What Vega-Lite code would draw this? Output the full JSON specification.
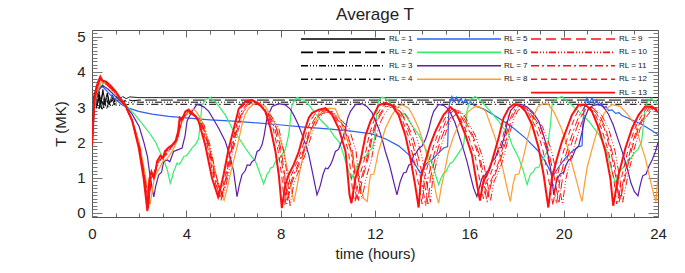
{
"$schema": "https://vega.github.io/schema/vega-lite/v6.json",
"width": 566, "height": 187,
"autosize": {"type": "none"},
"padding": {"left": 92, "top": 30, "right": 27, "bottom": 56},
"background": "white",
"config": {"font": "Liberation Sans", "view": {"stroke": "#555", "strokeWidth": 1}, "axis": {"grid": false}},
"title": {"text": "Average T", "fontSize": 17, "fontWeight": "normal", "color": "#222", "offset": 6, "anchor": "middle"},
"data": {"values": [
{"rl":1,"t":0,"T":1.9},{"rl":1,"t":0.08,"T":3.3},{"rl":1,"t":0.15,"T":3.5},{"rl":1,"t":0.22,"T":3.05},{"rl":1,"t":0.3,"T":3.45},{"rl":1,"t":0.38,"T":3.1},{"rl":1,"t":0.46,"T":3.5},{"rl":1,"t":0.55,"T":3.15},{"rl":1,"t":0.65,"T":3.4},{"rl":1,"t":0.75,"T":3.1},{"rl":1,"t":0.85,"T":3.35},{"rl":1,"t":0.95,"T":3.15},{"rl":1,"t":1.05,"T":3.3},{"rl":1,"t":1.15,"T":3.2},{"rl":1,"t":1.3,"T":3.3},{"rl":1,"t":1.45,"T":3.24},{"rl":1,"t":1.6,"T":3.29},{"rl":1,"t":2,"T":3.27},{"rl":1,"t":24,"T":3.27},
{"rl":2,"t":0,"T":1.9},{"rl":2,"t":0.1,"T":3.4},{"rl":2,"t":0.18,"T":3.2},{"rl":2,"t":0.27,"T":3.55},{"rl":2,"t":0.35,"T":3.0},{"rl":2,"t":0.45,"T":3.4},{"rl":2,"t":0.55,"T":3.05},{"rl":2,"t":0.65,"T":3.35},{"rl":2,"t":0.75,"T":3.05},{"rl":2,"t":0.9,"T":3.3},{"rl":2,"t":1.0,"T":3.1},{"rl":2,"t":1.15,"T":3.25},{"rl":2,"t":1.3,"T":3.15},{"rl":2,"t":1.5,"T":3.22},{"rl":2,"t":1.7,"T":3.18},{"rl":2,"t":2,"T":3.2},{"rl":2,"t":24,"T":3.2},
{"rl":3,"t":0,"T":1.9},{"rl":3,"t":0.1,"T":3.2},{"rl":3,"t":0.2,"T":3.45},{"rl":3,"t":0.3,"T":2.95},{"rl":3,"t":0.4,"T":3.3},{"rl":3,"t":0.5,"T":2.95},{"rl":3,"t":0.62,"T":3.25},{"rl":3,"t":0.72,"T":3.0},{"rl":3,"t":0.85,"T":3.22},{"rl":3,"t":0.98,"T":3.05},{"rl":3,"t":1.1,"T":3.2},{"rl":3,"t":1.25,"T":3.08},{"rl":3,"t":1.4,"T":3.18},{"rl":3,"t":1.6,"T":3.12},{"rl":3,"t":1.8,"T":3.15},{"rl":3,"t":2,"T":3.14},{"rl":3,"t":24,"T":3.14},
{"rl":4,"t":0,"T":1.9},{"rl":4,"t":0.12,"T":3.35},{"rl":4,"t":0.2,"T":2.95},{"rl":4,"t":0.32,"T":3.35},{"rl":4,"t":0.42,"T":2.9},{"rl":4,"t":0.52,"T":3.2},{"rl":4,"t":0.62,"T":2.95},{"rl":4,"t":0.72,"T":3.15},{"rl":4,"t":0.82,"T":3.0},{"rl":4,"t":0.95,"T":3.12},{"rl":4,"t":1.1,"T":3.02},{"rl":4,"t":1.25,"T":3.1},{"rl":4,"t":1.4,"T":3.05},{"rl":4,"t":1.6,"T":3.09},{"rl":4,"t":2,"T":3.08},{"rl":4,"t":24,"T":3.08},
{"rl":5,"t":0,"T":1.9},{"rl":5,"t":0.1,"T":3.0},{"rl":5,"t":0.2,"T":3.4},{"rl":5,"t":0.35,"T":3.6},{"rl":5,"t":0.5,"T":3.55},{"rl":5,"t":0.85,"T":3.3},{"rl":5,"t":1.27,"T":3.07},{"rl":5,"t":1.55,"T":2.97},{"rl":5,"t":1.98,"T":2.88},{"rl":5,"t":2.54,"T":2.8},{"rl":5,"t":3.25,"T":2.74},{"rl":5,"t":4.24,"T":2.68},{"rl":5,"t":5.0,"T":2.64},{"rl":5,"t":6.0,"T":2.6},{"rl":5,"t":7.0,"T":2.55},{"rl":5,"t":7.92,"T":2.5},{"rl":5,"t":9.0,"T":2.43},{"rl":5,"t":10.0,"T":2.38},{"rl":5,"t":11.0,"T":2.32},{"rl":5,"t":11.87,"T":2.24},{"rl":5,"t":12.44,"T":2.1},{"rl":5,"t":13.0,"T":1.9},{"rl":5,"t":13.43,"T":1.65},{"rl":5,"t":13.71,"T":1.36},{"rl":5,"t":13.92,"T":1.13},{"rl":5,"t":14.0,"T":1.2},{"rl":5,"t":14.2,"T":1.41},{"rl":5,"t":14.41,"T":1.5},{"rl":5,"t":14.7,"T":1.7},{"rl":5,"t":14.91,"T":1.84},{"rl":5,"t":15.08,"T":1.88},{"rl":5,"t":15.12,"T":2.7},{"rl":5,"t":15.15,"T":3.07},{"rl":5,"t":15.26,"T":3.3},{"rl":5,"t":15.35,"T":3.15},{"rl":5,"t":15.45,"T":3.28},{"rl":5,"t":15.55,"T":3.12},{"rl":5,"t":15.65,"T":3.25},{"rl":5,"t":15.75,"T":3.1},{"rl":5,"t":15.83,"T":3.22},{"rl":5,"t":15.95,"T":3.08},{"rl":5,"t":16.05,"T":3.15},{"rl":5,"t":16.2,"T":3.05},{"rl":5,"t":16.39,"T":3.0},{"rl":5,"t":16.6,"T":2.95},{"rl":5,"t":16.82,"T":2.86},{"rl":5,"t":17.24,"T":2.69},{"rl":5,"t":17.67,"T":2.5},{"rl":5,"t":17.88,"T":2.4},{"rl":5,"t":18.38,"T":2.12},{"rl":5,"t":18.94,"T":1.74},{"rl":5,"t":19.22,"T":1.46},{"rl":5,"t":19.44,"T":1.17},{"rl":5,"t":19.58,"T":1.08},{"rl":5,"t":19.79,"T":1.3},{"rl":5,"t":20.07,"T":1.55},{"rl":5,"t":20.35,"T":1.74},{"rl":5,"t":20.64,"T":1.88},{"rl":5,"t":20.78,"T":1.9},{"rl":5,"t":20.82,"T":2.6},{"rl":5,"t":20.87,"T":2.97},{"rl":5,"t":20.99,"T":3.26},{"rl":5,"t":21.08,"T":3.1},{"rl":5,"t":21.2,"T":3.26},{"rl":5,"t":21.3,"T":3.08},{"rl":5,"t":21.4,"T":3.2},{"rl":5,"t":21.5,"T":3.05},{"rl":5,"t":21.6,"T":3.12},{"rl":5,"t":21.7,"T":2.98},{"rl":5,"t":21.8,"T":3.02},{"rl":5,"t":21.9,"T":2.9},{"rl":5,"t":22.05,"T":2.92},{"rl":5,"t":22.2,"T":2.82},{"rl":5,"t":22.35,"T":2.84},{"rl":5,"t":22.47,"T":2.76},{"rl":5,"t":22.7,"T":2.7},{"rl":5,"t":22.9,"T":2.63},{"rl":5,"t":23.2,"T":2.55},{"rl":5,"t":23.46,"T":2.45},{"rl":5,"t":23.75,"T":2.33},{"rl":5,"t":24.0,"T":2.22},
{"rl":6,"t":0,"T":1.9},{"rl":6,"t":0.1,"T":3.0},{"rl":6,"t":0.25,"T":3.45},{"rl":6,"t":0.5,"T":3.7},{"rl":6,"t":0.7,"T":3.6},{"rl":6,"t":1.0,"T":3.35},{"rl":6,"t":1.4,"T":3.08},{"rl":6,"t":1.8,"T":2.8},{"rl":6,"t":2.1,"T":2.55},{"rl":6,"t":2.4,"T":2.3},{"rl":6,"t":2.7,"T":2.0},{"rl":6,"t":2.9,"T":1.7},{"rl":6,"t":3.05,"T":1.5},{"rl":6,"t":3.2,"T":1.2},{"rl":6,"t":3.32,"T":0.84},{"rl":6,"t":3.4,"T":1.0},{"rl":6,"t":3.46,"T":1.17},{"rl":6,"t":3.52,"T":1.25},{"rl":6,"t":3.6,"T":1.41},{"rl":6,"t":3.7,"T":1.38},{"rl":6,"t":3.78,"T":1.45},{"rl":6,"t":3.89,"T":1.6},{"rl":6,"t":4.0,"T":1.62},{"rl":6,"t":4.1,"T":1.7},{"rl":6,"t":4.25,"T":1.85},{"rl":6,"t":4.4,"T":1.95},{"rl":6,"t":4.52,"T":2.1},{"rl":6,"t":4.6,"T":2.6},{"rl":6,"t":4.66,"T":3.05},{"rl":6,"t":4.8,"T":3.2},{"rl":6,"t":5.02,"T":3.28},{"rl":6,"t":5.1,"T":3.2},{"rl":6,"t":5.23,"T":3.16},{"rl":6,"t":5.44,"T":2.97},{"rl":6,"t":5.65,"T":2.78},{"rl":6,"t":5.94,"T":2.4},{"rl":6,"t":6.2,"T":2.15},{"rl":6,"t":6.5,"T":1.84},{"rl":6,"t":6.7,"T":1.65},{"rl":6,"t":6.93,"T":1.46},{"rl":6,"t":7.05,"T":1.25},{"rl":6,"t":7.14,"T":1.08},{"rl":6,"t":7.28,"T":0.82},{"rl":6,"t":7.35,"T":0.95},{"rl":6,"t":7.42,"T":1.1},{"rl":6,"t":7.5,"T":1.15},{"rl":6,"t":7.57,"T":1.27},{"rl":6,"t":7.68,"T":1.3},{"rl":6,"t":7.78,"T":1.46},{"rl":6,"t":7.9,"T":1.5},{"rl":6,"t":8.06,"T":1.65},{"rl":6,"t":8.2,"T":1.8},{"rl":6,"t":8.34,"T":2.22},{"rl":6,"t":8.42,"T":2.7},{"rl":6,"t":8.48,"T":3.07},{"rl":6,"t":8.6,"T":3.2},{"rl":6,"t":8.7,"T":3.28},{"rl":6,"t":8.85,"T":3.22},{"rl":6,"t":9.0,"T":3.2},{"rl":6,"t":9.19,"T":3.07},{"rl":6,"t":9.4,"T":2.88},{"rl":6,"t":9.62,"T":2.69},{"rl":6,"t":10.04,"T":2.4},{"rl":6,"t":10.3,"T":2.15},{"rl":6,"t":10.46,"T":2.03},{"rl":6,"t":10.6,"T":1.8},{"rl":6,"t":10.75,"T":1.46},{"rl":6,"t":10.89,"T":1.17},{"rl":6,"t":11.0,"T":0.95},{"rl":6,"t":11.08,"T":1.1},{"rl":6,"t":11.15,"T":1.15},{"rl":6,"t":11.25,"T":1.35},{"rl":6,"t":11.35,"T":1.4},{"rl":6,"t":11.45,"T":1.55},{"rl":6,"t":11.6,"T":1.6},{"rl":6,"t":11.75,"T":1.75},{"rl":6,"t":11.9,"T":1.85},{"rl":6,"t":12.0,"T":2.2},{"rl":6,"t":12.07,"T":2.8},{"rl":6,"t":12.15,"T":3.2},{"rl":6,"t":12.3,"T":3.28},{"rl":6,"t":12.44,"T":3.25},{"rl":6,"t":12.6,"T":3.15},{"rl":6,"t":12.8,"T":3.0},{"rl":6,"t":13.0,"T":2.9},{"rl":6,"t":13.28,"T":2.78},{"rl":6,"t":13.55,"T":2.5},{"rl":6,"t":13.85,"T":2.22},{"rl":6,"t":14.05,"T":1.95},{"rl":6,"t":14.2,"T":1.74},{"rl":6,"t":14.35,"T":1.5},{"rl":6,"t":14.49,"T":1.27},{"rl":6,"t":14.6,"T":1.0},{"rl":6,"t":14.7,"T":0.8},{"rl":6,"t":14.78,"T":0.95},{"rl":6,"t":14.91,"T":1.13},{"rl":6,"t":15.0,"T":1.15},{"rl":6,"t":15.1,"T":1.3},{"rl":6,"t":15.19,"T":1.4},{"rl":6,"t":15.3,"T":1.45},{"rl":6,"t":15.45,"T":1.6},{"rl":6,"t":15.6,"T":1.75},{"rl":6,"t":15.75,"T":1.9},{"rl":6,"t":15.85,"T":2.4},{"rl":6,"t":15.9,"T":2.88},{"rl":6,"t":16.04,"T":3.22},{"rl":6,"t":16.25,"T":3.3},{"rl":6,"t":16.45,"T":3.2},{"rl":6,"t":16.6,"T":3.1},{"rl":6,"t":16.89,"T":2.88},{"rl":6,"t":17.24,"T":2.6},{"rl":6,"t":17.45,"T":2.4},{"rl":6,"t":17.67,"T":2.22},{"rl":6,"t":17.81,"T":1.93},{"rl":6,"t":17.95,"T":1.75},{"rl":6,"t":18.1,"T":1.55},{"rl":6,"t":18.3,"T":1.17},{"rl":6,"t":18.45,"T":0.8},{"rl":6,"t":18.52,"T":0.95},{"rl":6,"t":18.59,"T":1.1},{"rl":6,"t":18.7,"T":1.15},{"rl":6,"t":18.8,"T":1.27},{"rl":6,"t":18.95,"T":1.3},{"rl":6,"t":19.05,"T":1.45},{"rl":6,"t":19.15,"T":1.55},{"rl":6,"t":19.29,"T":1.74},{"rl":6,"t":19.38,"T":2.2},{"rl":6,"t":19.44,"T":2.5},{"rl":6,"t":19.51,"T":3.07},{"rl":6,"t":19.72,"T":3.26},{"rl":6,"t":19.93,"T":3.3},{"rl":6,"t":20.1,"T":3.2},{"rl":6,"t":20.35,"T":3.05},{"rl":6,"t":20.64,"T":2.88},{"rl":6,"t":21.06,"T":2.6},{"rl":6,"t":21.49,"T":2.22},{"rl":6,"t":21.7,"T":1.95},{"rl":6,"t":21.84,"T":1.74},{"rl":6,"t":22.0,"T":1.3},{"rl":6,"t":22.12,"T":1.0},{"rl":6,"t":22.2,"T":0.85},{"rl":6,"t":22.3,"T":1.05},{"rl":6,"t":22.4,"T":1.2},{"rl":6,"t":22.55,"T":1.3},{"rl":6,"t":22.7,"T":1.45},{"rl":6,"t":22.85,"T":1.55},{"rl":6,"t":23.0,"T":1.7},{"rl":6,"t":23.15,"T":1.8},{"rl":6,"t":23.3,"T":2.0},{"rl":6,"t":23.4,"T":2.6},{"rl":6,"t":23.45,"T":3.0},{"rl":6,"t":23.6,"T":3.2},{"rl":6,"t":23.72,"T":3.25},{"rl":6,"t":23.85,"T":3.15},{"rl":6,"t":24.0,"T":3.1},
{"rl":7,"t":0,"T":1.9},{"rl":7,"t":0.1,"T":3.0},{"rl":7,"t":0.25,"T":3.45},{"rl":7,"t":0.45,"T":3.62},{"rl":7,"t":0.7,"T":3.5},{"rl":7,"t":1.0,"T":3.3},{"rl":7,"t":1.4,"T":3.05},{"rl":7,"t":1.7,"T":2.8},{"rl":7,"t":2.0,"T":2.45},{"rl":7,"t":2.2,"T":2.0},{"rl":7,"t":2.35,"T":1.6},{"rl":7,"t":2.45,"T":1.1},{"rl":7,"t":2.55,"T":0.7},{"rl":7,"t":2.62,"T":0.45},{"rl":7,"t":2.7,"T":0.75},{"rl":7,"t":2.83,"T":1.08},{"rl":7,"t":2.95,"T":1.15},{"rl":7,"t":3.04,"T":1.46},{"rl":7,"t":3.2,"T":1.5},{"rl":7,"t":3.3,"T":1.45},{"rl":7,"t":3.46,"T":1.74},{"rl":7,"t":3.6,"T":1.78},{"rl":7,"t":3.82,"T":1.84},{"rl":7,"t":3.95,"T":2.2},{"rl":7,"t":4.03,"T":2.6},{"rl":7,"t":4.24,"T":2.88},{"rl":7,"t":4.45,"T":3.08},{"rl":7,"t":4.6,"T":3.05},{"rl":7,"t":4.75,"T":3.0},{"rl":7,"t":4.95,"T":2.88},{"rl":7,"t":5.2,"T":2.6},{"rl":7,"t":5.37,"T":2.4},{"rl":7,"t":5.65,"T":2.03},{"rl":7,"t":5.85,"T":1.6},{"rl":7,"t":6.0,"T":1.2},{"rl":7,"t":6.08,"T":0.8},{"rl":7,"t":6.15,"T":0.46},{"rl":7,"t":6.25,"T":0.8},{"rl":7,"t":6.36,"T":1.08},{"rl":7,"t":6.5,"T":1.2},{"rl":7,"t":6.58,"T":1.36},{"rl":7,"t":6.7,"T":1.35},{"rl":7,"t":6.79,"T":1.46},{"rl":7,"t":6.9,"T":1.5},{"rl":7,"t":7.0,"T":1.74},{"rl":7,"t":7.1,"T":1.78},{"rl":7,"t":7.21,"T":1.93},{"rl":7,"t":7.3,"T":2.2},{"rl":7,"t":7.42,"T":2.69},{"rl":7,"t":7.64,"T":3.02},{"rl":7,"t":7.92,"T":3.1},{"rl":7,"t":8.2,"T":3.06},{"rl":7,"t":8.4,"T":2.95},{"rl":7,"t":8.55,"T":2.78},{"rl":7,"t":8.75,"T":2.5},{"rl":7,"t":8.91,"T":2.22},{"rl":7,"t":9.05,"T":1.95},{"rl":7,"t":9.19,"T":1.65},{"rl":7,"t":9.3,"T":1.3},{"rl":7,"t":9.4,"T":0.98},{"rl":7,"t":9.54,"T":0.51},{"rl":7,"t":9.62,"T":0.65},{"rl":7,"t":9.69,"T":0.8},{"rl":7,"t":9.8,"T":1.1},{"rl":7,"t":9.9,"T":1.27},{"rl":7,"t":10.0,"T":1.25},{"rl":7,"t":10.11,"T":1.36},{"rl":7,"t":10.2,"T":1.5},{"rl":7,"t":10.32,"T":1.74},{"rl":7,"t":10.45,"T":1.8},{"rl":7,"t":10.53,"T":1.93},{"rl":7,"t":10.65,"T":2.15},{"rl":7,"t":10.75,"T":2.4},{"rl":7,"t":10.85,"T":2.7},{"rl":7,"t":10.96,"T":2.88},{"rl":7,"t":11.17,"T":3.07},{"rl":7,"t":11.45,"T":3.1},{"rl":7,"t":11.65,"T":3.02},{"rl":7,"t":11.87,"T":2.85},{"rl":7,"t":12.0,"T":2.65},{"rl":7,"t":12.15,"T":2.4},{"rl":7,"t":12.3,"T":2.1},{"rl":7,"t":12.44,"T":1.74},{"rl":7,"t":12.6,"T":1.4},{"rl":7,"t":12.72,"T":1.08},{"rl":7,"t":12.82,"T":0.8},{"rl":7,"t":12.93,"T":0.51},{"rl":7,"t":13.0,"T":0.7},{"rl":7,"t":13.07,"T":0.89},{"rl":7,"t":13.21,"T":1.13},{"rl":7,"t":13.32,"T":1.15},{"rl":7,"t":13.43,"T":1.35},{"rl":7,"t":13.55,"T":1.4},{"rl":7,"t":13.64,"T":1.65},{"rl":7,"t":13.75,"T":1.7},{"rl":7,"t":13.85,"T":1.82},{"rl":7,"t":14.0,"T":1.9},{"rl":7,"t":14.15,"T":2.1},{"rl":7,"t":14.27,"T":2.35},{"rl":7,"t":14.4,"T":2.7},{"rl":7,"t":14.49,"T":2.88},{"rl":7,"t":14.7,"T":3.08},{"rl":7,"t":14.91,"T":3.05},{"rl":7,"t":15.05,"T":2.98},{"rl":7,"t":15.19,"T":2.85},{"rl":7,"t":15.4,"T":2.55},{"rl":7,"t":15.55,"T":2.22},{"rl":7,"t":15.75,"T":1.8},{"rl":7,"t":15.9,"T":1.46},{"rl":7,"t":16.05,"T":1.05},{"rl":7,"t":16.18,"T":0.7},{"rl":7,"t":16.32,"T":0.46},{"rl":7,"t":16.42,"T":0.7},{"rl":7,"t":16.53,"T":0.98},{"rl":7,"t":16.65,"T":1.05},{"rl":7,"t":16.75,"T":1.17},{"rl":7,"t":16.85,"T":1.2},{"rl":7,"t":16.96,"T":1.46},{"rl":7,"t":17.1,"T":1.55},{"rl":7,"t":17.24,"T":1.84},{"rl":7,"t":17.35,"T":1.85},{"rl":7,"t":17.5,"T":2.2},{"rl":7,"t":17.62,"T":2.6},{"rl":7,"t":17.75,"T":2.9},{"rl":7,"t":17.95,"T":3.05},{"rl":7,"t":18.2,"T":3.08},{"rl":7,"t":18.45,"T":3.0},{"rl":7,"t":18.7,"T":2.85},{"rl":7,"t":18.94,"T":2.6},{"rl":7,"t":19.1,"T":2.3},{"rl":7,"t":19.22,"T":2.03},{"rl":7,"t":19.35,"T":1.6},{"rl":7,"t":19.44,"T":1.27},{"rl":7,"t":19.52,"T":0.85},{"rl":7,"t":19.58,"T":0.51},{"rl":7,"t":19.65,"T":0.75},{"rl":7,"t":19.72,"T":0.95},{"rl":7,"t":19.85,"T":1.1},{"rl":7,"t":20.0,"T":1.15},{"rl":7,"t":20.1,"T":1.35},{"rl":7,"t":20.21,"T":1.5},{"rl":7,"t":20.35,"T":1.55},{"rl":7,"t":20.5,"T":1.8},{"rl":7,"t":20.64,"T":1.9},{"rl":7,"t":20.78,"T":2.3},{"rl":7,"t":20.9,"T":2.7},{"rl":7,"t":21.05,"T":2.95},{"rl":7,"t":21.25,"T":3.05},{"rl":7,"t":21.5,"T":3.08},{"rl":7,"t":21.7,"T":3.0},{"rl":7,"t":21.9,"T":2.8},{"rl":7,"t":22.1,"T":2.5},{"rl":7,"t":22.3,"T":2.1},{"rl":7,"t":22.5,"T":1.7},{"rl":7,"t":22.7,"T":1.25},{"rl":7,"t":22.85,"T":0.85},{"rl":7,"t":23.0,"T":0.6},{"rl":7,"t":23.15,"T":0.48},{"rl":7,"t":23.25,"T":0.8},{"rl":7,"t":23.35,"T":1.05},{"rl":7,"t":23.5,"T":1.1},{"rl":7,"t":23.6,"T":1.3},{"rl":7,"t":23.75,"T":1.5},{"rl":7,"t":23.9,"T":1.75},{"rl":7,"t":24.0,"T":2.0},
{"rl":8,"t":0,"T":1.9},{"rl":8,"t":0.1,"T":3.0},{"rl":8,"t":0.2,"T":3.4},{"rl":8,"t":0.4,"T":3.72},{"rl":8,"t":0.6,"T":3.65},{"rl":8,"t":1.0,"T":3.4},{"rl":8,"t":1.4,"T":3.05},{"rl":8,"t":1.7,"T":2.65},{"rl":8,"t":2.0,"T":2.0},{"rl":8,"t":2.2,"T":1.3},{"rl":8,"t":2.35,"T":0.7},{"rl":8,"t":2.47,"T":0.25},{"rl":8,"t":2.55,"T":0.6},{"rl":8,"t":2.62,"T":0.9},{"rl":8,"t":2.72,"T":1.1},{"rl":8,"t":2.85,"T":1.25},{"rl":8,"t":3.0,"T":1.45},{"rl":8,"t":3.2,"T":1.55},{"rl":8,"t":3.4,"T":1.75},{"rl":8,"t":3.55,"T":1.95},{"rl":8,"t":3.68,"T":2.25},{"rl":8,"t":3.8,"T":2.55},{"rl":8,"t":3.96,"T":2.78},{"rl":8,"t":4.1,"T":2.85},{"rl":8,"t":4.3,"T":2.95},{"rl":8,"t":4.45,"T":2.85},{"rl":8,"t":4.66,"T":2.6},{"rl":8,"t":4.85,"T":2.2},{"rl":8,"t":5.02,"T":1.74},{"rl":8,"t":5.2,"T":1.25},{"rl":8,"t":5.35,"T":0.85},{"rl":8,"t":5.5,"T":0.5},{"rl":8,"t":5.6,"T":0.35},{"rl":8,"t":5.7,"T":0.6},{"rl":8,"t":5.8,"T":0.89},{"rl":8,"t":5.9,"T":1.2},{"rl":8,"t":6.0,"T":1.46},{"rl":8,"t":6.2,"T":2.0},{"rl":8,"t":6.36,"T":2.5},{"rl":8,"t":6.5,"T":2.8},{"rl":8,"t":6.65,"T":2.97},{"rl":8,"t":6.85,"T":3.08},{"rl":8,"t":7.07,"T":3.11},{"rl":8,"t":7.35,"T":3.02},{"rl":8,"t":7.55,"T":2.8},{"rl":8,"t":7.78,"T":2.5},{"rl":8,"t":7.95,"T":2.15},{"rl":8,"t":8.13,"T":1.74},{"rl":8,"t":8.3,"T":1.2},{"rl":8,"t":8.41,"T":0.8},{"rl":8,"t":8.56,"T":0.3},{"rl":8,"t":8.65,"T":0.6},{"rl":8,"t":8.75,"T":0.95},{"rl":8,"t":8.84,"T":1.27},{"rl":8,"t":9.05,"T":1.93},{"rl":8,"t":9.2,"T":2.2},{"rl":8,"t":9.33,"T":2.4},{"rl":8,"t":9.62,"T":2.78},{"rl":8,"t":9.85,"T":2.92},{"rl":8,"t":10.04,"T":2.97},{"rl":8,"t":10.32,"T":2.95},{"rl":8,"t":10.55,"T":2.6},{"rl":8,"t":10.75,"T":2.22},{"rl":8,"t":10.95,"T":1.8},{"rl":8,"t":11.17,"T":1.27},{"rl":8,"t":11.35,"T":0.8},{"rl":8,"t":11.52,"T":0.41},{"rl":8,"t":11.67,"T":0.32},{"rl":8,"t":11.75,"T":0.8},{"rl":8,"t":11.81,"T":1.08},{"rl":8,"t":11.95,"T":1.1},{"rl":8,"t":12.15,"T":1.74},{"rl":8,"t":12.44,"T":2.4},{"rl":8,"t":12.72,"T":2.78},{"rl":8,"t":12.95,"T":3.0},{"rl":8,"t":13.14,"T":3.07},{"rl":8,"t":13.43,"T":2.97},{"rl":8,"t":13.65,"T":2.7},{"rl":8,"t":13.85,"T":2.4},{"rl":8,"t":14.05,"T":2.0},{"rl":8,"t":14.2,"T":1.65},{"rl":8,"t":14.35,"T":1.25},{"rl":8,"t":14.49,"T":0.89},{"rl":8,"t":14.6,"T":0.5},{"rl":8,"t":14.7,"T":0.27},{"rl":8,"t":14.8,"T":0.7},{"rl":8,"t":14.9,"T":1.0},{"rl":8,"t":15.12,"T":1.74},{"rl":8,"t":15.35,"T":2.2},{"rl":8,"t":15.55,"T":2.5},{"rl":8,"t":15.75,"T":2.72},{"rl":8,"t":15.97,"T":2.88},{"rl":8,"t":16.2,"T":3.0},{"rl":8,"t":16.39,"T":3.02},{"rl":8,"t":16.68,"T":2.9},{"rl":8,"t":16.9,"T":2.5},{"rl":8,"t":17.1,"T":2.12},{"rl":8,"t":17.3,"T":1.6},{"rl":8,"t":17.45,"T":1.17},{"rl":8,"t":17.6,"T":0.7},{"rl":8,"t":17.74,"T":0.32},{"rl":8,"t":17.85,"T":0.8},{"rl":8,"t":17.95,"T":1.08},{"rl":8,"t":18.1,"T":1.1},{"rl":8,"t":18.3,"T":1.6},{"rl":8,"t":18.5,"T":2.2},{"rl":8,"t":18.7,"T":2.7},{"rl":8,"t":18.9,"T":3.0},{"rl":8,"t":19.1,"T":3.1},{"rl":8,"t":19.35,"T":3.08},{"rl":8,"t":19.6,"T":2.85},{"rl":8,"t":19.9,"T":2.4},{"rl":8,"t":20.15,"T":1.9},{"rl":8,"t":20.35,"T":1.4},{"rl":8,"t":20.55,"T":0.9},{"rl":8,"t":20.7,"T":0.5},{"rl":8,"t":20.78,"T":0.32},{"rl":8,"t":20.88,"T":0.8},{"rl":8,"t":21.0,"T":1.3},{"rl":8,"t":21.2,"T":1.8},{"rl":8,"t":21.45,"T":2.4},{"rl":8,"t":21.7,"T":2.8},{"rl":8,"t":21.9,"T":3.0},{"rl":8,"t":22.05,"T":3.07},{"rl":8,"t":22.4,"T":3.02},{"rl":8,"t":22.7,"T":2.8},{"rl":8,"t":23.04,"T":2.5},{"rl":8,"t":23.25,"T":2.0},{"rl":8,"t":23.46,"T":1.55},{"rl":8,"t":23.65,"T":1.0},{"rl":8,"t":23.82,"T":0.51},{"rl":8,"t":23.92,"T":0.32},{"rl":8,"t":24.0,"T":1.1},
{"rl":9,"t":0,"T":1.9},{"rl":9,"t":0.1,"T":3.1},{"rl":9,"t":0.2,"T":3.5},{"rl":9,"t":0.35,"T":3.78},{"rl":9,"t":0.6,"T":3.67},{"rl":9,"t":1.0,"T":3.4},{"rl":9,"t":1.4,"T":3.05},{"rl":9,"t":1.71,"T":2.6},{"rl":9,"t":2.01,"T":1.85},{"rl":9,"t":2.23,"T":0.98},{"rl":9,"t":2.39,"T":0.2},{"rl":9,"t":2.48,"T":0.95},{"rl":9,"t":2.62,"T":1.1},{"rl":9,"t":2.8,"T":1.45},{"rl":9,"t":3.05,"T":1.6},{"rl":9,"t":3.35,"T":1.85},{"rl":9,"t":3.62,"T":2.1},{"rl":9,"t":3.78,"T":2.6},{"rl":9,"t":4.02,"T":2.82},{"rl":9,"t":4.2,"T":2.88},{"rl":9,"t":4.48,"T":2.7},{"rl":9,"t":4.68,"T":2.5},{"rl":9,"t":4.95,"T":1.93},{"rl":9,"t":5.24,"T":0.98},{"rl":9,"t":5.5,"T":0.5},{"rl":9,"t":5.62,"T":0.75},{"rl":9,"t":5.73,"T":1.08},{"rl":9,"t":5.95,"T":1.84},{"rl":9,"t":6.15,"T":2.35},{"rl":9,"t":6.37,"T":2.9},{"rl":9,"t":6.65,"T":3.1},{"rl":9,"t":6.9,"T":3.12},{"rl":9,"t":7.2,"T":3.02},{"rl":9,"t":7.5,"T":2.78},{"rl":9,"t":7.82,"T":2.4},{"rl":9,"t":8.03,"T":1.74},{"rl":9,"t":8.17,"T":1.08},{"rl":9,"t":8.3,"T":0.35},{"rl":9,"t":8.45,"T":0.8},{"rl":9,"t":8.6,"T":1.08},{"rl":9,"t":8.8,"T":1.4},{"rl":9,"t":9.02,"T":1.8},{"rl":9,"t":9.25,"T":2.3},{"rl":9,"t":9.45,"T":2.6},{"rl":9,"t":9.6,"T":2.75},{"rl":9,"t":9.85,"T":2.85},{"rl":9,"t":10.1,"T":2.9},{"rl":9,"t":10.4,"T":2.7},{"rl":9,"t":10.76,"T":2.4},{"rl":9,"t":11.05,"T":1.74},{"rl":9,"t":11.22,"T":0.6},{"rl":9,"t":11.3,"T":0.35},{"rl":9,"t":11.47,"T":0.98},{"rl":9,"t":11.68,"T":1.46},{"rl":9,"t":11.9,"T":2.2},{"rl":9,"t":12.1,"T":2.6},{"rl":9,"t":12.25,"T":2.8},{"rl":9,"t":12.45,"T":3.0},{"rl":9,"t":12.7,"T":3.06},{"rl":9,"t":12.95,"T":2.98},{"rl":9,"t":13.25,"T":2.7},{"rl":9,"t":13.58,"T":2.2},{"rl":9,"t":13.85,"T":1.55},{"rl":9,"t":14.1,"T":0.8},{"rl":9,"t":14.25,"T":0.25},{"rl":9,"t":14.35,"T":1.0},{"rl":9,"t":14.52,"T":1.46},{"rl":9,"t":14.72,"T":1.93},{"rl":9,"t":14.92,"T":2.3},{"rl":9,"t":15.1,"T":2.6},{"rl":9,"t":15.25,"T":2.75},{"rl":9,"t":15.5,"T":2.92},{"rl":9,"t":15.7,"T":2.78},{"rl":9,"t":15.92,"T":2.5},{"rl":9,"t":16.15,"T":2.2},{"rl":9,"t":16.45,"T":1.6},{"rl":9,"t":16.65,"T":0.9},{"rl":9,"t":16.8,"T":0.45},{"rl":9,"t":16.95,"T":0.9},{"rl":9,"t":17.1,"T":1.1},{"rl":9,"t":17.3,"T":1.45},{"rl":9,"t":17.58,"T":2.1},{"rl":9,"t":17.78,"T":2.65},{"rl":9,"t":17.98,"T":2.92},{"rl":9,"t":18.15,"T":3.0},{"rl":9,"t":18.35,"T":3.0},{"rl":9,"t":18.65,"T":2.8},{"rl":9,"t":19.0,"T":2.45},{"rl":9,"t":19.33,"T":1.84},{"rl":9,"t":19.58,"T":1.08},{"rl":9,"t":19.8,"T":0.3},{"rl":9,"t":19.95,"T":0.98},{"rl":9,"t":20.15,"T":1.55},{"rl":9,"t":20.35,"T":2.0},{"rl":9,"t":20.55,"T":2.4},{"rl":9,"t":20.75,"T":2.75},{"rl":9,"t":21.0,"T":3.0},{"rl":9,"t":21.2,"T":3.0},{"rl":9,"t":21.5,"T":2.8},{"rl":9,"t":21.78,"T":2.4},{"rl":9,"t":22.05,"T":1.74},{"rl":9,"t":22.28,"T":0.98},{"rl":9,"t":22.4,"T":0.35},{"rl":9,"t":22.63,"T":1.08},{"rl":9,"t":22.9,"T":1.84},{"rl":9,"t":23.17,"T":2.4},{"rl":9,"t":23.45,"T":2.75},{"rl":9,"t":23.68,"T":2.95},{"rl":9,"t":23.9,"T":2.98},{"rl":9,"t":24,"T":2.95},
{"rl":10,"t":0,"T":1.9},{"rl":10,"t":0.1,"T":3.1},{"rl":10,"t":0.2,"T":3.5},{"rl":10,"t":0.35,"T":3.75},{"rl":10,"t":0.6,"T":3.65},{"rl":10,"t":1.0,"T":3.38},{"rl":10,"t":1.4,"T":3.03},{"rl":10,"t":1.73,"T":2.6},{"rl":10,"t":2.03,"T":1.85},{"rl":10,"t":2.25,"T":0.98},{"rl":10,"t":2.41,"T":0.25},{"rl":10,"t":2.5,"T":0.95},{"rl":10,"t":2.65,"T":1.1},{"rl":10,"t":2.85,"T":1.45},{"rl":10,"t":3.1,"T":1.6},{"rl":10,"t":3.4,"T":1.85},{"rl":10,"t":3.65,"T":2.1},{"rl":10,"t":3.8,"T":2.6},{"rl":10,"t":4.05,"T":2.8},{"rl":10,"t":4.25,"T":2.85},{"rl":10,"t":4.55,"T":2.68},{"rl":10,"t":4.75,"T":2.5},{"rl":10,"t":5.0,"T":1.93},{"rl":10,"t":5.29,"T":0.98},{"rl":10,"t":5.55,"T":0.45},{"rl":10,"t":5.67,"T":0.75},{"rl":10,"t":5.78,"T":1.08},{"rl":10,"t":6.0,"T":1.84},{"rl":10,"t":6.2,"T":2.35},{"rl":10,"t":6.42,"T":2.88},{"rl":10,"t":6.7,"T":3.08},{"rl":10,"t":6.95,"T":3.1},{"rl":10,"t":7.25,"T":3.0},{"rl":10,"t":7.6,"T":2.75},{"rl":10,"t":7.92,"T":2.4},{"rl":10,"t":8.13,"T":1.74},{"rl":10,"t":8.27,"T":1.08},{"rl":10,"t":8.4,"T":0.2},{"rl":10,"t":8.55,"T":0.8},{"rl":10,"t":8.7,"T":1.08},{"rl":10,"t":8.9,"T":1.4},{"rl":10,"t":9.12,"T":1.8},{"rl":10,"t":9.35,"T":2.3},{"rl":10,"t":9.55,"T":2.6},{"rl":10,"t":9.7,"T":2.75},{"rl":10,"t":9.95,"T":2.85},{"rl":10,"t":10.2,"T":2.88},{"rl":10,"t":10.5,"T":2.68},{"rl":10,"t":10.9,"T":2.4},{"rl":10,"t":11.2,"T":1.74},{"rl":10,"t":11.37,"T":0.6},{"rl":10,"t":11.45,"T":0.4},{"rl":10,"t":11.62,"T":0.98},{"rl":10,"t":11.83,"T":1.46},{"rl":10,"t":12.05,"T":2.2},{"rl":10,"t":12.25,"T":2.6},{"rl":10,"t":12.4,"T":2.8},{"rl":10,"t":12.6,"T":2.98},{"rl":10,"t":12.85,"T":3.04},{"rl":10,"t":13.1,"T":2.96},{"rl":10,"t":13.4,"T":2.7},{"rl":10,"t":13.75,"T":2.2},{"rl":10,"t":14.0,"T":1.55},{"rl":10,"t":14.2,"T":0.8},{"rl":10,"t":14.35,"T":0.3},{"rl":10,"t":14.45,"T":1.0},{"rl":10,"t":14.62,"T":1.46},{"rl":10,"t":14.82,"T":1.93},{"rl":10,"t":15.02,"T":2.3},{"rl":10,"t":15.2,"T":2.6},{"rl":10,"t":15.35,"T":2.75},{"rl":10,"t":15.6,"T":2.9},{"rl":10,"t":15.8,"T":2.75},{"rl":10,"t":16.0,"T":2.5},{"rl":10,"t":16.25,"T":2.2},{"rl":10,"t":16.55,"T":1.6},{"rl":10,"t":16.75,"T":0.9},{"rl":10,"t":16.9,"T":0.35},{"rl":10,"t":17.05,"T":0.9},{"rl":10,"t":17.2,"T":1.1},{"rl":10,"t":17.4,"T":1.45},{"rl":10,"t":17.65,"T":2.1},{"rl":10,"t":17.85,"T":2.6},{"rl":10,"t":18.05,"T":2.9},{"rl":10,"t":18.22,"T":2.98},{"rl":10,"t":18.42,"T":2.98},{"rl":10,"t":18.75,"T":2.78},{"rl":10,"t":19.1,"T":2.45},{"rl":10,"t":19.45,"T":1.84},{"rl":10,"t":19.72,"T":1.08},{"rl":10,"t":19.95,"T":0.25},{"rl":10,"t":20.1,"T":0.98},{"rl":10,"t":20.3,"T":1.55},{"rl":10,"t":20.5,"T":2.0},{"rl":10,"t":20.68,"T":2.4},{"rl":10,"t":20.88,"T":2.75},{"rl":10,"t":21.1,"T":2.98},{"rl":10,"t":21.3,"T":2.98},{"rl":10,"t":21.6,"T":2.78},{"rl":10,"t":21.9,"T":2.4},{"rl":10,"t":22.18,"T":1.74},{"rl":10,"t":22.38,"T":0.98},{"rl":10,"t":22.5,"T":0.3},{"rl":10,"t":22.73,"T":1.08},{"rl":10,"t":23.0,"T":1.84},{"rl":10,"t":23.25,"T":2.4},{"rl":10,"t":23.5,"T":2.72},{"rl":10,"t":23.72,"T":2.92},{"rl":10,"t":23.92,"T":2.95},{"rl":10,"t":24,"T":2.93},
{"rl":11,"t":0,"T":1.9},{"rl":11,"t":0.1,"T":3.15},{"rl":11,"t":0.2,"T":3.55},{"rl":11,"t":0.35,"T":3.8},{"rl":11,"t":0.6,"T":3.68},{"rl":11,"t":1.0,"T":3.4},{"rl":11,"t":1.4,"T":3.05},{"rl":11,"t":1.72,"T":2.6},{"rl":11,"t":2.02,"T":1.85},{"rl":11,"t":2.24,"T":0.98},{"rl":11,"t":2.4,"T":0.15},{"rl":11,"t":2.5,"T":0.95},{"rl":11,"t":2.62,"T":1.1},{"rl":11,"t":2.82,"T":1.45},{"rl":11,"t":3.05,"T":1.6},{"rl":11,"t":3.35,"T":1.85},{"rl":11,"t":3.62,"T":2.1},{"rl":11,"t":3.78,"T":2.65},{"rl":11,"t":4.02,"T":2.85},{"rl":11,"t":4.2,"T":2.9},{"rl":11,"t":4.45,"T":2.7},{"rl":11,"t":4.65,"T":2.5},{"rl":11,"t":4.92,"T":1.93},{"rl":11,"t":5.2,"T":0.98},{"rl":11,"t":5.47,"T":0.35},{"rl":11,"t":5.6,"T":0.75},{"rl":11,"t":5.7,"T":1.08},{"rl":11,"t":5.92,"T":1.84},{"rl":11,"t":6.12,"T":2.35},{"rl":11,"t":6.35,"T":2.9},{"rl":11,"t":6.6,"T":3.12},{"rl":11,"t":6.85,"T":3.15},{"rl":11,"t":7.15,"T":3.05},{"rl":11,"t":7.45,"T":2.8},{"rl":11,"t":7.75,"T":2.4},{"rl":11,"t":7.98,"T":1.74},{"rl":11,"t":8.12,"T":1.08},{"rl":11,"t":8.25,"T":0.25},{"rl":11,"t":8.4,"T":0.8},{"rl":11,"t":8.55,"T":1.08},{"rl":11,"t":8.75,"T":1.4},{"rl":11,"t":8.98,"T":1.8},{"rl":11,"t":9.2,"T":2.3},{"rl":11,"t":9.38,"T":2.6},{"rl":11,"t":9.55,"T":2.78},{"rl":11,"t":9.78,"T":2.88},{"rl":11,"t":10.05,"T":2.92},{"rl":11,"t":10.35,"T":2.7},{"rl":11,"t":10.7,"T":2.4},{"rl":11,"t":11.0,"T":1.74},{"rl":11,"t":11.17,"T":0.6},{"rl":11,"t":11.25,"T":0.35},{"rl":11,"t":11.42,"T":0.98},{"rl":11,"t":11.63,"T":1.46},{"rl":11,"t":11.85,"T":2.2},{"rl":11,"t":12.05,"T":2.6},{"rl":11,"t":12.2,"T":2.8},{"rl":11,"t":12.4,"T":3.0},{"rl":11,"t":12.65,"T":3.08},{"rl":11,"t":12.9,"T":3.0},{"rl":11,"t":13.2,"T":2.72},{"rl":11,"t":13.5,"T":2.2},{"rl":11,"t":13.75,"T":1.55},{"rl":11,"t":14.0,"T":0.8},{"rl":11,"t":14.15,"T":0.2},{"rl":11,"t":14.25,"T":1.0},{"rl":11,"t":14.42,"T":1.46},{"rl":11,"t":14.62,"T":1.93},{"rl":11,"t":14.82,"T":2.3},{"rl":11,"t":15.0,"T":2.6},{"rl":11,"t":15.15,"T":2.78},{"rl":11,"t":15.4,"T":2.95},{"rl":11,"t":15.6,"T":2.8},{"rl":11,"t":15.85,"T":2.5},{"rl":11,"t":16.1,"T":2.2},{"rl":11,"t":16.4,"T":1.6},{"rl":11,"t":16.6,"T":0.9},{"rl":11,"t":16.75,"T":0.3},{"rl":11,"t":16.9,"T":0.9},{"rl":11,"t":17.05,"T":1.1},{"rl":11,"t":17.25,"T":1.45},{"rl":11,"t":17.52,"T":2.1},{"rl":11,"t":17.72,"T":2.65},{"rl":11,"t":17.92,"T":2.95},{"rl":11,"t":18.1,"T":3.02},{"rl":11,"t":18.3,"T":3.02},{"rl":11,"t":18.6,"T":2.82},{"rl":11,"t":18.92,"T":2.45},{"rl":11,"t":19.25,"T":1.84},{"rl":11,"t":19.48,"T":1.08},{"rl":11,"t":19.7,"T":0.25},{"rl":11,"t":19.85,"T":0.98},{"rl":11,"t":20.05,"T":1.55},{"rl":11,"t":20.25,"T":2.0},{"rl":11,"t":20.45,"T":2.4},{"rl":11,"t":20.65,"T":2.75},{"rl":11,"t":20.9,"T":3.02},{"rl":11,"t":21.1,"T":3.02},{"rl":11,"t":21.4,"T":2.82},{"rl":11,"t":21.72,"T":2.4},{"rl":11,"t":22.0,"T":1.74},{"rl":11,"t":22.22,"T":0.98},{"rl":11,"t":22.35,"T":0.3},{"rl":11,"t":22.58,"T":1.08},{"rl":11,"t":22.85,"T":1.84},{"rl":11,"t":23.12,"T":2.4},{"rl":11,"t":23.4,"T":2.75},{"rl":11,"t":23.62,"T":2.98},{"rl":11,"t":23.85,"T":3.0},{"rl":11,"t":24,"T":2.92},
{"rl":12,"t":0,"T":1.9},{"rl":12,"t":0.1,"T":3.2},{"rl":12,"t":0.2,"T":3.6},{"rl":12,"t":0.35,"T":3.82},{"rl":12,"t":0.6,"T":3.7},{"rl":12,"t":1.0,"T":3.42},{"rl":12,"t":1.4,"T":3.05},{"rl":12,"t":1.7,"T":2.6},{"rl":12,"t":2.0,"T":1.85},{"rl":12,"t":2.22,"T":0.98},{"rl":12,"t":2.38,"T":0.12},{"rl":12,"t":2.47,"T":0.95},{"rl":12,"t":2.6,"T":1.1},{"rl":12,"t":2.8,"T":1.45},{"rl":12,"t":3.0,"T":1.6},{"rl":12,"t":3.3,"T":1.85},{"rl":12,"t":3.6,"T":2.1},{"rl":12,"t":3.75,"T":2.65},{"rl":12,"t":4.0,"T":2.85},{"rl":12,"t":4.15,"T":2.9},{"rl":12,"t":4.4,"T":2.72},{"rl":12,"t":4.6,"T":2.55},{"rl":12,"t":4.88,"T":1.93},{"rl":12,"t":5.17,"T":0.98},{"rl":12,"t":5.43,"T":0.4},{"rl":12,"t":5.55,"T":0.75},{"rl":12,"t":5.66,"T":1.08},{"rl":12,"t":5.88,"T":1.84},{"rl":12,"t":6.08,"T":2.35},{"rl":12,"t":6.3,"T":2.95},{"rl":12,"t":6.55,"T":3.15},{"rl":12,"t":6.8,"T":3.18},{"rl":12,"t":7.1,"T":3.08},{"rl":12,"t":7.4,"T":2.85},{"rl":12,"t":7.68,"T":2.4},{"rl":12,"t":7.9,"T":1.74},{"rl":12,"t":8.04,"T":1.08},{"rl":12,"t":8.17,"T":0.2},{"rl":12,"t":8.32,"T":0.8},{"rl":12,"t":8.46,"T":1.08},{"rl":12,"t":8.67,"T":1.4},{"rl":12,"t":8.9,"T":1.8},{"rl":12,"t":9.1,"T":2.3},{"rl":12,"t":9.3,"T":2.65},{"rl":12,"t":9.45,"T":2.8},{"rl":12,"t":9.7,"T":2.9},{"rl":12,"t":9.95,"T":2.95},{"rl":12,"t":10.25,"T":2.75},{"rl":12,"t":10.58,"T":2.4},{"rl":12,"t":10.88,"T":1.74},{"rl":12,"t":11.06,"T":0.55},{"rl":12,"t":11.15,"T":0.3},{"rl":12,"t":11.32,"T":0.98},{"rl":12,"t":11.53,"T":1.46},{"rl":12,"t":11.75,"T":2.2},{"rl":12,"t":11.95,"T":2.6},{"rl":12,"t":12.1,"T":2.8},{"rl":12,"t":12.3,"T":3.02},{"rl":12,"t":12.55,"T":3.1},{"rl":12,"t":12.8,"T":3.02},{"rl":12,"t":13.1,"T":2.75},{"rl":12,"t":13.4,"T":2.2},{"rl":12,"t":13.63,"T":1.55},{"rl":12,"t":13.85,"T":0.8},{"rl":12,"t":14.0,"T":0.25},{"rl":12,"t":14.1,"T":1.0},{"rl":12,"t":14.28,"T":1.46},{"rl":12,"t":14.5,"T":1.93},{"rl":12,"t":14.7,"T":2.3},{"rl":12,"t":14.9,"T":2.6},{"rl":12,"t":15.05,"T":2.78},{"rl":12,"t":15.3,"T":2.98},{"rl":12,"t":15.5,"T":2.85},{"rl":12,"t":15.7,"T":2.55},{"rl":12,"t":15.95,"T":2.2},{"rl":12,"t":16.25,"T":1.6},{"rl":12,"t":16.45,"T":0.9},{"rl":12,"t":16.6,"T":0.4},{"rl":12,"t":16.75,"T":0.9},{"rl":12,"t":16.9,"T":1.1},{"rl":12,"t":17.1,"T":1.45},{"rl":12,"t":17.4,"T":2.1},{"rl":12,"t":17.6,"T":2.65},{"rl":12,"t":17.8,"T":2.95},{"rl":12,"t":18.0,"T":3.05},{"rl":12,"t":18.2,"T":3.05},{"rl":12,"t":18.5,"T":2.85},{"rl":12,"t":18.8,"T":2.45},{"rl":12,"t":19.1,"T":1.84},{"rl":12,"t":19.33,"T":1.08},{"rl":12,"t":19.55,"T":0.2},{"rl":12,"t":19.7,"T":0.98},{"rl":12,"t":19.92,"T":1.55},{"rl":12,"t":20.1,"T":2.0},{"rl":12,"t":20.3,"T":2.4},{"rl":12,"t":20.5,"T":2.75},{"rl":12,"t":20.75,"T":3.05},{"rl":12,"t":21.0,"T":3.05},{"rl":12,"t":21.3,"T":2.85},{"rl":12,"t":21.6,"T":2.4},{"rl":12,"t":21.9,"T":1.74},{"rl":12,"t":22.12,"T":0.98},{"rl":12,"t":22.25,"T":0.25},{"rl":12,"t":22.48,"T":1.08},{"rl":12,"t":22.75,"T":1.84},{"rl":12,"t":23.02,"T":2.4},{"rl":12,"t":23.3,"T":2.75},{"rl":12,"t":23.55,"T":3.0},{"rl":12,"t":23.8,"T":3.0},{"rl":12,"t":24,"T":2.9},
{"rl":13,"t":0,"T":1.9},{"rl":13,"t":0.1,"T":3.2},{"rl":13,"t":0.18,"T":3.55},{"rl":13,"t":0.25,"T":3.7},{"rl":13,"t":0.35,"T":3.87},{"rl":13,"t":0.45,"T":3.75},{"rl":13,"t":0.6,"T":3.72},{"rl":13,"t":0.8,"T":3.6},{"rl":13,"t":1.0,"T":3.45},{"rl":13,"t":1.2,"T":3.25},{"rl":13,"t":1.4,"T":3.08},{"rl":13,"t":1.7,"T":2.62},{"rl":13,"t":1.98,"T":1.85},{"rl":13,"t":2.19,"T":0.98},{"rl":13,"t":2.35,"T":0.05},{"rl":13,"t":2.43,"T":0.95},{"rl":13,"t":2.52,"T":1.17},{"rl":13,"t":2.62,"T":1.0},{"rl":13,"t":2.7,"T":1.2},{"rl":13,"t":2.76,"T":1.46},{"rl":13,"t":2.9,"T":1.62},{"rl":13,"t":3.0,"T":1.55},{"rl":13,"t":3.1,"T":1.75},{"rl":13,"t":3.25,"T":1.85},{"rl":13,"t":3.4,"T":1.92},{"rl":13,"t":3.55,"T":2.05},{"rl":13,"t":3.65,"T":2.3},{"rl":13,"t":3.72,"T":2.7},{"rl":13,"t":3.82,"T":2.65},{"rl":13,"t":3.96,"T":2.88},{"rl":13,"t":4.1,"T":2.93},{"rl":13,"t":4.2,"T":2.82},{"rl":13,"t":4.38,"T":2.74},{"rl":13,"t":4.52,"T":2.6},{"rl":13,"t":4.8,"T":1.93},{"rl":13,"t":5.09,"T":0.98},{"rl":13,"t":5.35,"T":0.45},{"rl":13,"t":5.45,"T":0.7},{"rl":13,"t":5.58,"T":1.08},{"rl":13,"t":5.7,"T":1.5},{"rl":13,"t":5.8,"T":1.84},{"rl":13,"t":6.0,"T":2.35},{"rl":13,"t":6.22,"T":2.95},{"rl":13,"t":6.5,"T":3.16},{"rl":13,"t":6.79,"T":3.2},{"rl":13,"t":7.07,"T":3.1},{"rl":13,"t":7.35,"T":2.88},{"rl":13,"t":7.57,"T":2.4},{"rl":13,"t":7.78,"T":1.74},{"rl":13,"t":7.92,"T":1.08},{"rl":13,"t":8.05,"T":0.13},{"rl":13,"t":8.2,"T":0.8},{"rl":13,"t":8.34,"T":1.08},{"rl":13,"t":8.55,"T":1.36},{"rl":13,"t":8.77,"T":1.74},{"rl":13,"t":9.0,"T":2.3},{"rl":13,"t":9.19,"T":2.69},{"rl":13,"t":9.33,"T":2.83},{"rl":13,"t":9.62,"T":2.93},{"rl":13,"t":9.9,"T":2.97},{"rl":13,"t":10.18,"T":2.78},{"rl":13,"t":10.46,"T":2.4},{"rl":13,"t":10.75,"T":1.74},{"rl":13,"t":10.92,"T":0.51},{"rl":13,"t":11.0,"T":0.27},{"rl":13,"t":11.17,"T":0.98},{"rl":13,"t":11.38,"T":1.46},{"rl":13,"t":11.6,"T":2.2},{"rl":13,"t":11.81,"T":2.6},{"rl":13,"t":11.95,"T":2.78},{"rl":13,"t":12.15,"T":3.05},{"rl":13,"t":12.44,"T":3.12},{"rl":13,"t":12.72,"T":3.05},{"rl":13,"t":13.0,"T":2.78},{"rl":13,"t":13.28,"T":2.22},{"rl":13,"t":13.5,"T":1.55},{"rl":13,"t":13.7,"T":0.8},{"rl":13,"t":13.85,"T":0.15},{"rl":13,"t":13.95,"T":1.0},{"rl":13,"t":14.13,"T":1.46},{"rl":13,"t":14.34,"T":1.93},{"rl":13,"t":14.56,"T":2.31},{"rl":13,"t":14.77,"T":2.6},{"rl":13,"t":14.91,"T":2.78},{"rl":13,"t":15.2,"T":3.0},{"rl":13,"t":15.4,"T":2.88},{"rl":13,"t":15.6,"T":2.6},{"rl":13,"t":15.83,"T":2.22},{"rl":13,"t":16.11,"T":1.65},{"rl":13,"t":16.3,"T":0.9},{"rl":13,"t":16.45,"T":0.35},{"rl":13,"t":16.6,"T":0.9},{"rl":13,"t":16.75,"T":1.08},{"rl":13,"t":16.96,"T":1.46},{"rl":13,"t":17.24,"T":2.12},{"rl":13,"t":17.45,"T":2.69},{"rl":13,"t":17.67,"T":2.97},{"rl":13,"t":17.88,"T":3.08},{"rl":13,"t":18.1,"T":3.07},{"rl":13,"t":18.38,"T":2.88},{"rl":13,"t":18.66,"T":2.5},{"rl":13,"t":18.94,"T":1.84},{"rl":13,"t":19.15,"T":1.08},{"rl":13,"t":19.35,"T":0.15},{"rl":13,"t":19.5,"T":0.98},{"rl":13,"t":19.72,"T":1.55},{"rl":13,"t":19.93,"T":2.03},{"rl":13,"t":20.14,"T":2.4},{"rl":13,"t":20.35,"T":2.78},{"rl":13,"t":20.64,"T":3.07},{"rl":13,"t":20.92,"T":3.07},{"rl":13,"t":21.2,"T":2.88},{"rl":13,"t":21.49,"T":2.4},{"rl":13,"t":21.77,"T":1.74},{"rl":13,"t":21.98,"T":0.98},{"rl":13,"t":22.1,"T":0.2},{"rl":13,"t":22.33,"T":1.08},{"rl":13,"t":22.62,"T":1.84},{"rl":13,"t":22.9,"T":2.4},{"rl":13,"t":23.18,"T":2.78},{"rl":13,"t":23.46,"T":3.02},{"rl":13,"t":23.75,"T":3.02},{"rl":13,"t":24.0,"T":2.85}
]},
"resolve": {"scale": {"strokeDash": "independent", "color": "independent"}, "axis": {"x": "independent", "y": "independent"}, "legend": {"strokeDash": "independent", "color": "independent"}},
"layer": [
{"transform": [{"filter": "datum.rl <= 4"}],
 "mark": {"type": "line", "color": "#000", "strokeWidth": 1, "clip": true},
 "encoding": {
  "x": {"field": "t", "type": "quantitative", "scale": {"domain": [0, 24], "nice": false, "zero": false},
   "axis": {"orient": "bottom", "values": [0,4,8,12,16,20,24], "ticks": false, "domain": false, "labelFlush": false, "labelOverlap": false, "labelPadding": 9, "labelFontSize": 15, "labelColor": "#222", "title": "time (hours)", "titleFontSize": 15, "titleFontWeight": "normal", "titleColor": "#222", "titlePadding": 5}},
  "y": {"field": "T", "type": "quantitative", "scale": {"domain": [-0.12, 5.19], "nice": false, "zero": false},
   "axis": {"orient": "left", "values": [0,1,2,3,4,5], "ticks": false, "domain": false, "labelPadding": 7, "labelFontSize": 15, "labelColor": "#222", "title": "T (MK)", "titleFontSize": 15, "titleFontWeight": "normal", "titleColor": "#222", "titlePadding": 8}},
  "detail": {"field": "rl"},
  "strokeDash": {"field": "rl", "type": "nominal", "scale": {"domain": [1,2,3,4], "range": [[1,0],[12,4],[7,2,1,2,1,2,1,2],[7,3,1.5,3]]},
   "legend": {"orient": "none", "legendX": 208, "legendY": 4, "title": null, "direction": "vertical", "symbolType": "stroke", "symbolSize": 7056, "symbolStrokeWidth": 1.6, "symbolStrokeColor": "#000", "clipHeight": 10, "rowPadding": 3.4, "labelFontSize": 8, "labelOffset": 3, "labelColor": "#111", "padding": 0, "labelExpr": "'RL = ' + datum.label"}}
 }},
{"transform": [{"filter": "datum.rl >= 5 && datum.rl <= 8"}],
 "mark": {"type": "line", "strokeWidth": 1.2, "clip": true},
 "encoding": {
  "x": {"field": "t", "type": "quantitative", "axis": {"orient": "bottom", "values": [0,1,2,3,4,5,6,7,8,9,10,11,12,13,14,15,16,17,18,19,20,21,22,23,24], "labels": false, "domain": false, "title": null, "tickColor": "#666", "tickSize": {"condition": {"test": "datum.value % 4 === 0", "value": -7}, "value": -4}}},
  "y": {"field": "T", "type": "quantitative", "axis": {"orient": "left", "values": [-0.1,0,0.1,0.2,0.3,0.4,0.5,0.6,0.7,0.8,0.9,1,1.1,1.2,1.3,1.4,1.5,1.6,1.7,1.8,1.9,2,2.1,2.2,2.3,2.4,2.5,2.6,2.7,2.8,2.9,3,3.1,3.2,3.3,3.4,3.5,3.6,3.7,3.8,3.9,4,4.1,4.2,4.3,4.4,4.5,4.6,4.7,4.8,4.9,5,5.1], "labels": false, "domain": false, "title": null, "tickColor": "#777", "tickSize": {"condition": {"test": "abs(datum.value - round(datum.value)) < 0.001", "value": -10}, "value": -5}}},
  "color": {"field": "rl", "type": "nominal", "scale": {"domain": [5,6,7,8], "range": ["#2a62f4", "#35ef6b", "#5b1fae", "#ff9b2f"]},
   "legend": {"orient": "none", "legendX": 324, "legendY": 4, "title": null, "direction": "vertical", "symbolType": "stroke", "symbolSize": 7056, "symbolStrokeWidth": 1.6, "clipHeight": 10, "rowPadding": 3.4, "labelFontSize": 8, "labelOffset": 2, "labelColor": "#111", "padding": 0, "labelExpr": "'RL = ' + datum.label"}}
 }},
{"transform": [{"filter": "datum.rl >= 9 && datum.rl <= 12"}],
 "mark": {"type": "line", "color": "#ff1010", "strokeWidth": 1, "clip": true},
 "encoding": {
  "x": {"field": "t", "type": "quantitative", "axis": {"orient": "top", "values": [0,1,2,3,4,5,6,7,8,9,10,11,12,13,14,15,16,17,18,19,20,21,22,23,24], "labels": false, "domain": false, "title": null, "tickColor": "#666", "tickSize": {"condition": {"test": "datum.value % 4 === 0", "value": -7}, "value": -4}}},
  "y": {"field": "T", "type": "quantitative", "axis": {"orient": "right", "values": [-0.1,0,0.1,0.2,0.3,0.4,0.5,0.6,0.7,0.8,0.9,1,1.1,1.2,1.3,1.4,1.5,1.6,1.7,1.8,1.9,2,2.1,2.2,2.3,2.4,2.5,2.6,2.7,2.8,2.9,3,3.1,3.2,3.3,3.4,3.5,3.6,3.7,3.8,3.9,4,4.1,4.2,4.3,4.4,4.5,4.6,4.7,4.8,4.9,5,5.1], "labels": false, "domain": false, "title": null, "tickColor": "#777", "tickSize": {"condition": {"test": "abs(datum.value - round(datum.value)) < 0.001", "value": -10}, "value": -5}}},
  "detail": {"field": "rl"},
  "strokeDash": {"field": "rl", "type": "nominal", "scale": {"domain": [9,10,11,12,13], "range": [[10,5],[7,2,1,2,1,2,1,2],[8,3,2,3],[6,4],[1,0]]},
   "legend": {"orient": "none", "legendX": 438, "legendY": 4, "title": null, "direction": "vertical", "symbolType": "stroke", "symbolSize": 7056, "symbolStrokeWidth": 1.6, "symbolStrokeColor": "#ff1010", "clipHeight": 10, "rowPadding": 3.4, "labelFontSize": 8, "labelOffset": 3, "labelColor": "#111", "padding": 0, "labelExpr": "'RL = ' + datum.label"}}
 }},
{"transform": [{"filter": "datum.rl == 13"}],
 "mark": {"type": "line", "color": "#ff1010", "strokeWidth": 2, "clip": true},
 "encoding": {
  "x": {"field": "t", "type": "quantitative", "axis": null},
  "y": {"field": "T", "type": "quantitative", "axis": null}
 }}
]
}
